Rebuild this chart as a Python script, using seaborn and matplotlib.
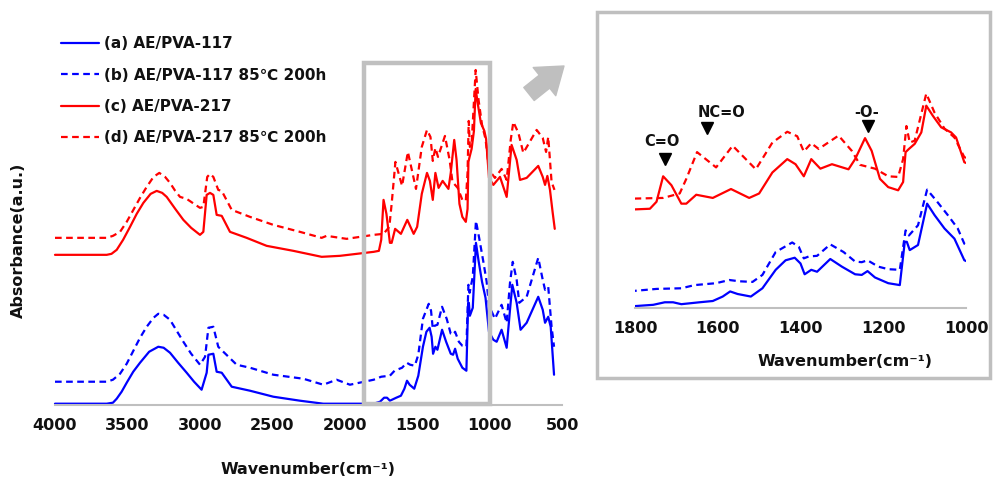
import matplotlib
matplotlib.use("Agg")
import matplotlib.pyplot as plt
import seaborn as sns
from matplotlib.ticker import MultipleLocator
from matplotlib.patches import Rectangle

# ---------------- data (absorbance, arbitrary units) ----------------
wn_a = [4000, 3643, 3600, 3574, 3540, 3505, 3460, 3413, 3350, 3287, 3250, 3206, 3150, 3091, 3040,
        2988, 2953, 2941, 2907, 2884, 2849, 2780,
        2654, 2493, 2309, 2148, 1900, 1800, 1756, 1728, 1708, 1688, 1644, 1612, 1588, 1570, 1552,
        1520, 1492, 1460, 1436, 1414, 1400, 1390, 1374, 1360, 1328, 1300, 1268, 1252, 1238, 1220,
        1188, 1160, 1148, 1143, 1136, 1116, 1094, 1076, 1052, 1028, 1004, 974, 951, 917, 882,
        859, 843, 813, 786, 744, 664, 633, 617, 595, 578, 555]
abs_a = [0, 0, 1, 5, 12, 21, 32, 41, 52, 57, 56, 51, 41, 31, 22,
         14, 31, 49, 50, 32, 31, 17,
         13, 7, 3, 0, 0, 0, 2, 6, 6, 3, 6, 8, 15, 23, 19,
         15, 28, 57, 72, 76, 67, 50, 57, 54, 74, 62, 50, 49, 55, 45,
         36, 33, 101, 101, 88, 96, 161, 143, 122, 106, 72, 64, 62, 74, 56,
         94, 119, 101, 74, 81, 107, 94, 81, 87, 77, 29]

wn_b = [4000, 3643, 3600, 3551, 3505, 3459, 3413, 3367, 3320, 3287, 3250, 3206, 3160, 3114, 3060,
        2999, 2964, 2941, 2907, 2873, 2838, 2746,
        2654, 2493, 2286, 2148, 2056, 1964, 1800, 1748, 1688, 1656, 1604, 1572, 1548, 1516, 1492,
        1460, 1420, 1404, 1392, 1380, 1360, 1328, 1296, 1268, 1252, 1238, 1212, 1188, 1160, 1146,
        1138, 1116, 1094, 1072, 1044, 1020, 1004, 963, 917, 882, 859, 840, 813, 795, 744,
        664, 633, 617, 595, 572, 555]
abs_b = [22, 22, 24, 30, 40, 53, 66, 77, 86, 90, 89, 84, 73, 62, 50,
         39, 47, 76, 77, 57, 52, 39,
         36, 29, 25, 19, 24, 19, 24, 27, 28, 33, 36, 41, 39, 38, 49,
         85, 100, 93, 75, 78, 79, 97, 85, 70, 69, 72, 62, 58, 57, 119,
         111, 127, 183, 166, 143, 122, 98, 85, 99, 81, 121, 142, 124, 101, 107,
         146, 124, 114, 117, 77, 57]

wn_c = [4000, 3643, 3610, 3574, 3530, 3482, 3436, 3390, 3340, 3298, 3260, 3229, 3170, 3114, 3060,
        2999, 2976, 2953, 2930, 2907, 2884, 2849,
        2792, 2677, 2539, 2355, 2159, 2033, 1800, 1764, 1748, 1732, 1712, 1688, 1676, 1652, 1612,
        1568, 1524, 1500, 1468, 1432, 1412, 1392, 1374, 1352, 1324, 1284, 1268, 1244, 1228, 1208,
        1188, 1164, 1152, 1146, 1138, 1124, 1108, 1096, 1080, 1060, 1036, 1024, 1004, 974, 928,
        882, 848, 813, 790, 744, 664, 633, 617, 601, 583, 565, 550]
abs_c = [149, 149, 150, 154, 164, 177, 190, 201, 210, 213, 211, 207, 195, 184, 176,
         169, 172, 209, 211, 209, 189, 188,
         172, 166, 158, 153, 147, 148, 152, 153, 164, 204, 190, 161, 161, 175, 170,
         184, 170, 177, 210, 231, 223, 204, 231, 216, 223, 215, 231, 264, 244, 200,
         187, 182, 195, 242, 247, 255, 273, 315, 299, 281, 273, 265, 226, 219, 227,
         207, 259, 244, 224, 226, 238, 227, 219, 228, 214, 192, 175]

wn_d = [4000, 3643, 3600, 3551, 3505, 3459, 3413, 3367, 3320, 3280, 3240, 3206, 3170, 3137, 3091,
        3040, 2999, 2976, 2949, 2930, 2907, 2873,
        2849, 2780, 2654, 2493, 2309, 2159, 2125, 1987, 1800, 1732, 1692, 1676, 1650, 1604, 1564,
        1508, 1468, 1432, 1408, 1392, 1374, 1356, 1308, 1276, 1256, 1220, 1188, 1164, 1152, 1144,
        1136, 1124, 1096, 1076, 1052, 1028, 1004, 963, 917, 882, 854, 836, 801, 767, 675,
        633, 610, 595, 572, 552]
abs_d = [166, 166, 168, 172, 182, 194, 206, 217, 227, 231, 227, 221, 213, 207, 205,
         200, 196, 197, 227, 230, 227, 214,
         213, 194, 187, 179, 172, 166, 168, 165, 169, 170, 177, 200, 242, 218, 252,
         215, 257, 274, 267, 243, 256, 247, 268, 244, 222, 216, 204, 203, 231, 283,
         257, 260, 334, 304, 279, 265, 234, 226, 235, 224, 264, 282, 271, 251, 274,
         266, 252, 267, 222, 214]

labels = ["(a) AE/PVA-117", "(b) AE/PVA-117 85\u2103 200h",
          "(c) AE/PVA-217", "(d) AE/PVA-217 85\u2103 200h"]

peak_names = ["C=O", "NC=O", "-O-"]
peak_wn = [1727, 1627, 1237]

# ---------------- style ----------------
sns.set_style("white")
plt.rcParams["font.family"] = ["DejaVu Sans", "Noto Sans CJK JP"]
plt.rcParams["font.weight"] = "bold"

W, H = 993, 484
fig = plt.figure(figsize=(W / 100, H / 100), dpi=100)

def fx(px):
    return px / W

def fy(py):
    return 1 - py / H

ax = fig.add_axes([fx(55), fy(404.7), fx(562) - fx(55), fy(59) - fy(404.7)])
axi = fig.add_axes([fx(635), fy(308), fx(966) - fx(635), fy(85) - fy(308)])

series = [(wn_a, abs_a, "#0000ff", False), (wn_b, abs_b, "#0000ff", True),
          (wn_c, abs_c, "#ff0000", False), (wn_d, abs_d, "#ff0000", True)]

for target, main in [(ax, True), (axi, False)]:
    for (x, y, col, dashed), lab in zip(series, labels):
        kw = dict(label=lab) if main else {}
        sns.lineplot(x=x, y=y, ax=target, color=col, lw=1.6, sort=False,
                     estimator=None, **kw)
        ln = target.lines[-1]
        if dashed:
            ln.set_dashes([3, 2])
        ln.set_clip_on(not main)

gray = "#bfbfbf"
for a in (ax, axi):
    for s in ("left", "top", "right"):
        a.spines[s].set_visible(False)
    a.spines["bottom"].set_color(gray)
    a.spines["bottom"].set_linewidth(1.5)
    a.set_yticks([])
    a.set_ylabel("")
    a.set_xlabel("")
    a.tick_params(axis="x", which="major", direction="inout", length=9, width=1.2,
                  color=gray, pad=5, labelsize=11.5, labelcolor="#111111")
    a.tick_params(axis="x", which="minor", direction="in", length=3.5, width=1.0, color=gray)
    a.set_facecolor("none")

ax.set_xlim(4000, 500)
ax.set_ylim(-1, 345)
ax.xaxis.set_major_locator(MultipleLocator(500))
ax.xaxis.set_minor_locator(MultipleLocator(100))

axi.set_xlim(1800, 1000)
axi.set_ylim(-3, 347.5)
axi.xaxis.set_major_locator(MultipleLocator(200))
axi.xaxis.set_minor_locator(MultipleLocator(50))

# zoom rectangle in main plot
ax.add_patch(Rectangle((995, 0), 870, 341, fill=False, ec="#c0c0c0", lw=3.2,
                       zorder=5, clip_on=False))

# legend
leg = ax.legend(loc="upper left", bbox_to_anchor=(fx(61), fy(36)),
                bbox_transform=fig.transFigure, frameon=False, fontsize=11,
                handlelength=2.5, handletextpad=0.3, labelspacing=1.08,
                borderpad=0, borderaxespad=0)
for t in leg.get_texts():
    t.set_color("#111111")

# axis labels
fig.text(fx(308), fy(470), "Wavenumber(cm\u207b\u00b9)", ha="center", va="center",
         fontsize=11.5, color="#111111")
fig.text(fx(18), fy(240), "Absorbance(a.u.)", ha="center", va="center",
         rotation=90, fontsize=11.5, color="#111111")
fig.text(fx(845), fy(362), "Wavenumber(cm\u207b\u00b9)", ha="center", va="center",
         fontsize=11.5, color="#111111")

# inset frame
fig.add_artist(Rectangle((fx(597), fy(378)), fx(990) - fx(597), fy(12) - fy(378),
                         transform=fig.transFigure, fill=False, ec=gray, lw=2.5))

# arrow
ax.annotate("", xy=(fx(564), fy(66)), xytext=(fx(529), fy(94)),
            xycoords="figure fraction", textcoords="figure fraction",
            annotation_clip=False,
            arrowprops=dict(arrowstyle="simple,head_length=0.9,head_width=1.3,tail_width=0.6",
                            color=gray, mutation_scale=20, shrinkA=0, shrinkB=0))

# peak annotations in inset
marker_abs = [231, 280, 283]
text_wn = [1736, 1590, 1240]
text_abs = [258, 305, 305]
for name, pw, ma, tw, ta in zip(peak_names, peak_wn, marker_abs, text_wn, text_abs):
    axi.plot([pw], [ma], marker="v", color="black", ms=9, ls="none", clip_on=False)
    axi.text(tw, ta, name, ha="center", va="center", fontsize=10.5, color="#111111")

fig.savefig("out.png", dpi=100, facecolor="white")
